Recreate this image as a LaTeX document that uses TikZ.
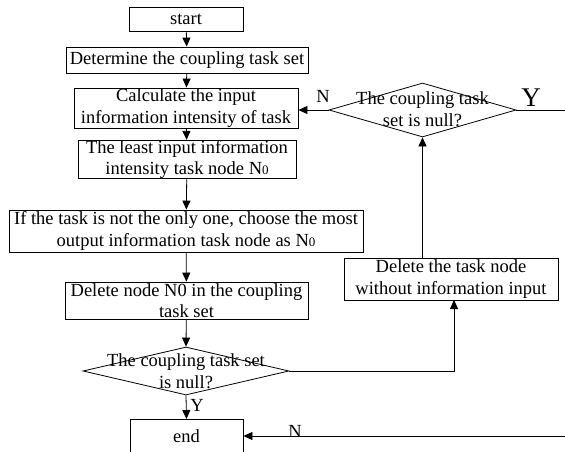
\documentclass[tikz,border=0pt]{standalone}
\usepackage{fontspec}
\setmainfont{Liberation Serif}
\usetikzlibrary{arrows.meta,shapes.geometric}
\newcommand{\Nsub}{N{\fontsize{13}{13}\selectfont 0}}
\begin{document}
\begin{tikzpicture}[x=1pt,y=-1pt,
  font=\fontsize{18.5}{21.5}\selectfont,
  line width=0.8pt,
  box/.style={draw, rectangle, inner sep=0pt, align=center},
  dia/.style={draw, diamond, inner sep=0pt},
  lbl/.style={inner sep=0pt, align=center},
  arr/.style={-{Triangle[length=9pt,width=8pt]}}]
\useasboundingbox (0,0) rectangle (565,452);
\fill[white] (0,0) rectangle (565,452);
% main column
\node[box, minimum width=114, minimum height=24] (start) at (186,19) {start};
\node[box, minimum width=242, minimum height=26] (det) at (187,60) {Determine the coupling task set};
\node[box, minimum width=224, minimum height=40] (calc) at (186,108) {Calculate the input\\information intensity of task};
\node[box, minimum width=218, minimum height=33] (least) at (187,159.5) {The least input information\\intensity task node \Nsub};
\node[box, minimum width=354, minimum height=42] (ifb) at (186,231) {If the task is not the only one, choose the most\\output information task node as \Nsub};
\node[box, minimum width=243, minimum height=37] (del) at (186.5,300.5) {Delete node N0 in the coupling\\task set};
\node[dia, minimum width=206, minimum height=48] (d2) at (186,371) {};
\node[lbl] (d2t) at (186,371) {The coupling task set\\is null?};
\node[box, minimum width=113, minimum height=40, anchor=north] (end) at (186.5,419) {\raisebox{0pt}[0pt][0pt]{}};
\node[lbl] (endt) at (186.5,436) {end};
% right side
\node[box, minimum width=214, minimum height=42] (deltask) at (451,279) {Delete the task node\\without information input};
\node[dia, minimum width=187, minimum height=54] (d1) at (422.5,110) {};
\node[lbl] (d1t) at (422.5,109) {The coupling task\\set is null?};
\coordinate (d1out) at (565,110);
\coordinate (endin) at (565,436);
\coordinate (d2turn) at (454,371);
\coordinate (dtin) at (454,300);
\coordinate (dtout) at (422.5,258);
% connectors
\draw[arr] (start) -- (det);
\draw[arr] (det) -- (calc);
\draw[arr] (calc) -- (least);
\draw[arr] (least) -- (ifb);
\draw[arr] (ifb) -- (del);
\draw[arr] (del) -- (d2.north);
\draw[arr] (d2.south) -- (end.north);
\draw[arr] (d2.east) -- (d2turn) -- (dtin);
\draw[arr] (dtout) -- (d1.south);
\draw[arr] (d1.west) -- (calc.east |- d1.west);
\draw (d1.east) -- (d1out);
\draw[arr] (endin) -- (end.east |- endin);
% labels
\node[lbl] (ltopN) at (323,96) {N};
\node[lbl, font=\fontsize{27}{27}\selectfont] (ltopY) at (531,98) {Y};
\node[lbl, anchor=west] (lbotY) at (190,405) {Y};
\node[lbl] (lbotN) at (295,431) {N};
\end{tikzpicture}
\end{document}
